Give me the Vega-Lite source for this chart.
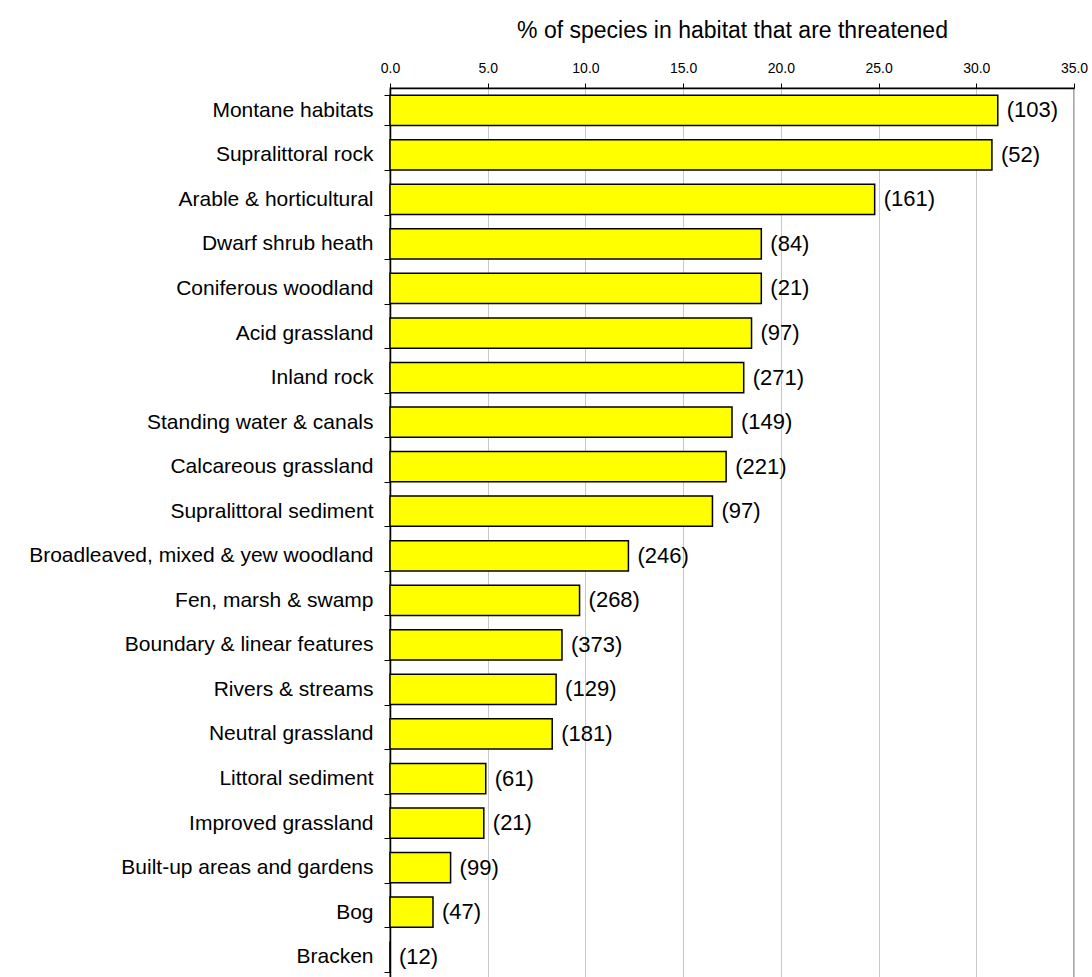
{
  "$schema": "https://vega.github.io/schema/vega-lite/v6.json",
  "autosize": "none",
  "padding": {"left": 390, "top": 88, "right": 18, "bottom": 0},
  "width": 684,
  "height": 891,
  "background": "white",
  "config": {
    "font": "Liberation Sans",
    "view": {"stroke": "#8c8c8c", "strokeWidth": 1.5}
  },
  "data": {
    "values": [
      {"habitat": "Montane habitats", "pct": 31.1, "label": "(103)"},
      {"habitat": "Supralittoral rock", "pct": 30.8, "label": "(52)"},
      {"habitat": "Arable & horticultural", "pct": 24.8, "label": "(161)"},
      {"habitat": "Dwarf shrub heath", "pct": 19.0, "label": "(84)"},
      {"habitat": "Coniferous woodland", "pct": 19.0, "label": "(21)"},
      {"habitat": "Acid grassland", "pct": 18.5, "label": "(97)"},
      {"habitat": "Inland rock", "pct": 18.1, "label": "(271)"},
      {"habitat": "Standing water & canals", "pct": 17.5, "label": "(149)"},
      {"habitat": "Calcareous grassland", "pct": 17.2, "label": "(221)"},
      {"habitat": "Supralittoral sediment", "pct": 16.5, "label": "(97)"},
      {"habitat": "Broadleaved, mixed & yew woodland", "pct": 12.2, "label": "(246)"},
      {"habitat": "Fen, marsh & swamp", "pct": 9.7, "label": "(268)"},
      {"habitat": "Boundary & linear features", "pct": 8.8, "label": "(373)"},
      {"habitat": "Rivers & streams", "pct": 8.5, "label": "(129)"},
      {"habitat": "Neutral grassland", "pct": 8.3, "label": "(181)"},
      {"habitat": "Littoral sediment", "pct": 4.9, "label": "(61)"},
      {"habitat": "Improved grassland", "pct": 4.8, "label": "(21)"},
      {"habitat": "Built-up areas and gardens", "pct": 3.1, "label": "(99)"},
      {"habitat": "Bog", "pct": 2.2, "label": "(47)"},
      {"habitat": "Bracken", "pct": 0, "label": "(12)"}
    ]
  },
  "encoding": {
    "y": {
      "field": "habitat",
      "type": "nominal",
      "sort": null,
      "scale": {"paddingInner": 0.32, "paddingOuter": 0.16},
      "axis": {
        "title": null,
        "tickBand": "extent",
        "tickSize": 6,
        "tickColor": "black",
        "domainColor": "black",
        "domainWidth": 1.5,
        "labelPadding": 11,
        "labelFontSize": 21,
        "labelColor": "black",
        "labelLimit": 500,
        "grid": false
      }
    },
    "x": {
      "field": "pct",
      "type": "quantitative",
      "scale": {"domain": [0, 35], "nice": false},
      "axis": {
        "orient": "top",
        "title": "% of species in habitat that are threatened",
        "titleFontSize": 23,
        "titleFontWeight": "normal",
        "titleColor": "black",
        "titlePadding": 19,
        "values": [0, 5, 10, 15, 20, 25, 30, 35],
        "format": ".1f",
        "labelFontSize": 14,
        "labelColor": "black",
        "labelPadding": 8,
        "labelFlush": false,
        "tickSize": 5,
        "tickColor": "black",
        "domainColor": "black",
        "domainWidth": 1.5,
        "grid": true,
        "gridColor": "#c8c8c8",
        "gridWidth": 1
      }
    }
  },
  "layer": [
    {
      "mark": {"type": "bar", "fill": "#FFFF00", "stroke": "black", "strokeWidth": 1.5}
    },
    {
      "mark": {"type": "text", "align": "left", "baseline": "middle", "dx": 9, "fontSize": 22, "color": "black"},
      "encoding": {"text": {"field": "label"}}
    }
  ]
}
